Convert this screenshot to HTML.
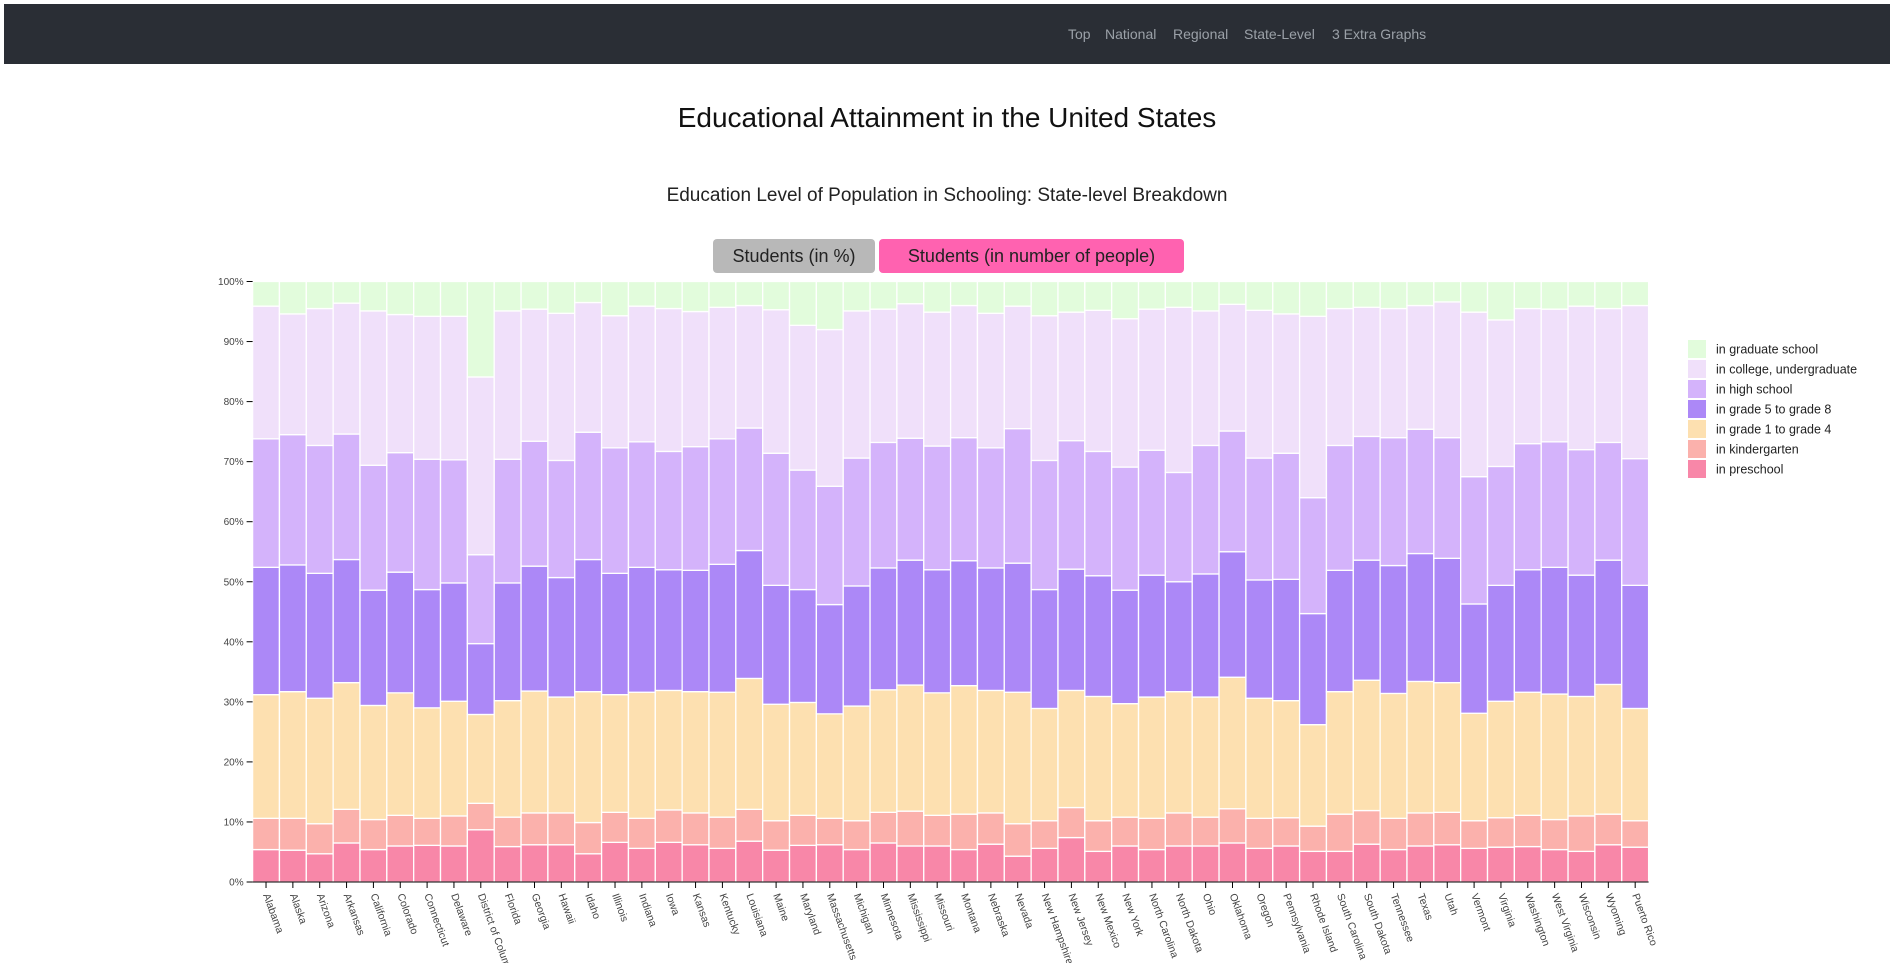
<!DOCTYPE html>
<html><head><meta charset="utf-8">
<style>
body{margin:0;background:#fff;font-family:"Liberation Sans",sans-serif;width:1894px;height:963px;overflow:hidden;position:relative}
.nav{position:absolute;left:4px;top:4px;width:1886px;height:60px;background:#2a2e35}
.nav a{position:absolute;top:22px;color:#9ba1a8;font-size:14px;text-decoration:none;white-space:nowrap}
h1{position:absolute;top:102px;left:0;width:1894px;margin:0;text-align:center;font-size:28px;font-weight:normal;color:#111}
h2{position:absolute;top:185px;left:0;width:1894px;margin:0;text-align:center;font-size:19px;font-weight:normal;color:#222}
.btn{position:absolute;top:239px;height:34px;border-radius:4px;font-size:18px;line-height:34px;text-align:center;color:#222}
svg{position:absolute;left:0;top:0}
</style></head><body>
<div class="nav">
<a style="left:1064px">Top</a>
<a style="left:1101px">National</a>
<a style="left:1169px">Regional</a>
<a style="left:1240px">State-Level</a>
<a style="left:1328px">3 Extra Graphs</a>
</div>
<h1>Educational Attainment in the United States</h1>
<h2>Education Level of Population in Schooling: State-level Breakdown</h2>
<div class="btn" style="left:713px;width:162px;background:#b8b8b8">Students (in %)</div>
<div class="btn" style="left:879px;width:305px;background:#ff62b0">Students (in number of people)</div>
<svg id="chart" width="1894" height="963"></svg>
<script>
const states=["Alabama","Alaska","Arizona","Arkansas","California","Colorado","Connecticut","Delaware","District of Columbia","Florida","Georgia","Hawaii","Idaho","Illinois","Indiana","Iowa","Kansas","Kentucky","Louisiana","Maine","Maryland","Massachusetts","Michigan","Minnesota","Mississippi","Missouri","Montana","Nebraska","Nevada","New Hampshire","New Jersey","New Mexico","New York","North Carolina","North Dakota","Ohio","Oklahoma","Oregon","Pennsylvania","Rhode Island","South Carolina","South Dakota","Tennessee","Texas","Utah","Vermont","Virginia","Washington","West Virginia","Wisconsin","Wyoming","Puerto Rico"];
// cumulative share (%) up to the top of each level
const cumPreschool=[5.4,5.3,4.7,6.5,5.4,6.0,6.1,6.0,8.7,5.9,6.2,6.2,4.7,6.6,5.6,6.6,6.2,5.6,6.8,5.3,6.1,6.2,5.4,6.5,6.0,6.0,5.4,6.3,4.3,5.6,7.4,5.1,6.0,5.4,6.0,6.0,6.5,5.6,6.0,5.1,5.1,6.3,5.4,6.0,6.2,5.6,5.8,5.9,5.4,5.1,6.2,5.8];
const cumKindergarten=[10.6,10.6,9.7,12.1,10.4,11.1,10.6,11.0,13.1,10.8,11.5,11.5,9.9,11.6,10.6,12.0,11.5,10.8,12.1,10.2,11.1,10.6,10.2,11.6,11.8,11.1,11.3,11.5,9.7,10.2,12.4,10.2,10.8,10.6,11.5,10.8,12.2,10.6,10.7,9.3,11.3,11.9,10.6,11.5,11.6,10.2,10.7,11.1,10.4,11.0,11.3,10.2];
const cumGrade1to4=[31.2,31.7,30.6,33.2,29.4,31.5,29.0,30.1,27.9,30.2,31.8,30.8,31.7,31.2,31.6,31.9,31.7,31.6,33.9,29.6,29.9,28.0,29.3,32.0,32.8,31.5,32.7,31.9,31.6,28.9,31.9,30.9,29.7,30.8,31.7,30.8,34.1,30.6,30.2,26.2,31.7,33.6,31.4,33.4,33.2,28.1,30.1,31.6,31.3,30.9,32.9,28.9];
const cumGrade5to8=[52.4,52.8,51.4,53.7,48.6,51.6,48.7,49.8,39.7,49.8,52.6,50.7,53.7,51.4,52.4,52.0,51.9,52.9,55.2,49.4,48.7,46.2,49.3,52.3,53.6,52.0,53.5,52.3,53.1,48.7,52.1,51.0,48.6,51.1,50.0,51.3,55.0,50.3,50.4,44.7,51.9,53.6,52.7,54.7,53.9,46.3,49.4,52.0,52.4,51.1,53.6,49.4];
const cumHighSchool=[73.8,74.5,72.7,74.6,69.4,71.5,70.4,70.3,54.5,70.4,73.4,70.2,74.9,72.3,73.3,71.7,72.5,73.8,75.6,71.4,68.6,65.9,70.6,73.2,73.9,72.6,74.0,72.3,75.5,70.2,73.5,71.7,69.1,71.9,68.2,72.7,75.1,70.6,71.4,64.0,72.7,74.2,74.0,75.4,74.0,67.5,69.2,73.0,73.3,72.0,73.2,70.5];
const cumCollege=[95.9,94.6,95.5,96.4,95.1,94.5,94.2,94.2,84.1,95.1,95.4,94.7,96.5,94.3,95.9,95.5,95.0,95.7,96.0,95.3,92.7,92.0,95.1,95.4,96.3,94.9,96.0,94.7,95.9,94.3,94.9,95.2,93.8,95.4,95.7,95.1,96.2,95.2,94.6,94.2,95.5,95.7,95.5,96.0,96.6,94.9,93.6,95.5,95.4,95.9,95.5,96.0];
const cumGraduate=states.map(()=>100);
const yTicks=[0,10,20,30,40,50,60,70,80,90,100];
const seriesNames=["in preschool","in kindergarten","in grade 1 to grade 4","in grade 5 to grade 8","in high school","in college, undergraduate","in graduate school"];
const seriesColors=["#f887a8","#fbb1ac","#fde0b0","#ac88f7","#d4b3fb","#f0e0fa","#e2fcdc"];
const cum=[cumPreschool,cumKindergarten,cumGrade1to4,cumGrade5to8,cumHighSchool,cumCollege,cumGraduate];

const NS="http://www.w3.org/2000/svg";
const svg=document.getElementById('chart');
const L=252.6,R=1648.6,T=281.5,B=882;
const bw=(R-L)/states.length;
const x=i=>L+i*bw;
const y=v=>B-(B-T)*v/100;
function mk(tag,attrs,parent){const e=document.createElementNS(NS,tag);for(const k in attrs)e.setAttribute(k,attrs[k]);(parent||svg).appendChild(e);return e;}

states.forEach((s,i)=>{
  const g=mk('g',{});
  
  
  for(let k=0;k<cum.length;k++){
    const lo=k?cum[k-1][i]:0, hi=cum[k][i];
    const r=mk('rect',{x:x(i),y:y(hi),width:bw,height:y(lo)-y(hi),fill:seriesColors[k],stroke:'#fff','stroke-width':1.3},g);
    
    
  }
  const cx=x(i)+bw/2;
  const t=mk('line',{x1:cx,x2:cx,y1:B,y2:B+6,stroke:'#000','stroke-width':1});
  
  
  const lb=mk('text',{x:cx-3,y:B+13,'font-size':10.5,fill:'#444','font-family':'Liberation Sans, sans-serif',transform:`rotate(70 ${cx-3} ${B+13})`});
  lb.textContent=s;
  
  
});
mk('line',{x1:L,x2:R,y1:B,y2:B,stroke:'#000','stroke-width':1});
yTicks.forEach(v=>{
  const t=mk('line',{x1:L-6,x2:L,y1:y(v),y2:y(v),stroke:'#000','stroke-width':1});
  
  
  const lb=mk('text',{x:L-9,y:y(v)+3.5,'font-size':10,fill:'#444','text-anchor':'end','font-family':'Liberation Sans, sans-serif'});
  lb.textContent=v+'%';
  
  
});
const lg=mk('g',{});


for(let k=6;k>=0;k--){
  const row=6-k;
  const sw=mk('rect',{x:1688,y:340+row*20,width:18,height:18,fill:seriesColors[k]},lg);
  
  
  const tx=mk('text',{x:1716,y:353.5+row*20,'font-size':12.5,fill:'#222','font-family':'Liberation Sans, sans-serif'},lg);
  tx.textContent=seriesNames[k];
  
  
}
</script>
</body></html>
